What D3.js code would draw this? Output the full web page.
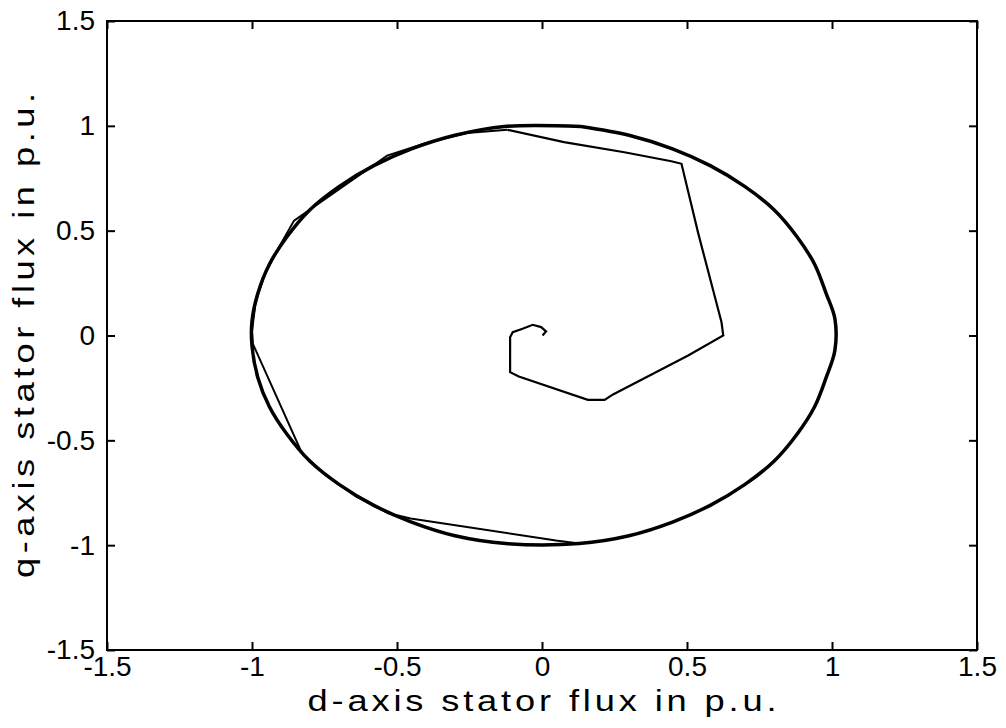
<!DOCTYPE html>
<html>
<head>
<meta charset="utf-8">
<script src="https://cdn.jsdelivr.net/npm/d3@7"></script>
<style>
  body { margin: 0; background: #fff; }
  text { font-family: "Liberation Sans", Arial, sans-serif; fill: #000; }
</style>
</head>
<body>
<div id="chart"></div>
<script>
// tick values
const xTicks = [-1.5, -1, -0.5, 0, 0.5, 1, 1.5];
const yTicks = [-1.5, -1, -0.5, 0, 0.5, 1, 1.5];

// start-up spiral from the origin out to the flux circle [d, q]
const startup = [
  [0.002, 0.0], [0.014, 0.020], [-0.003, 0.040], [-0.032, 0.051], [-0.067, 0.032],
  [-0.101, 0.016], [-0.110, -0.008], [-0.110, -0.175], [-0.080, -0.196],
  [0.158, -0.307], [0.216, -0.307], [0.245, -0.281], [0.504, -0.095],
  [0.625, 0.0], [0.619, 0.063], [0.539, 0.486], [0.481, 0.819], [0.446, 0.831],
  [0.284, 0.874], [0.076, 0.922], [-0.119, 0.981]
];

// first lap, cutting chords inside the circle
const firstLap = [
  [-0.119, 0.981], [-0.26, 0.966], [-0.41, 0.914], [-0.534, 0.858],
  [-0.855, 0.548], [-0.906, 0.423], [-0.956, 0.292], [-0.988, 0.156],
  [-1.0, 0.02], [-0.997, -0.04], [-0.827, -0.563], [-0.743, -0.669],
  [-0.643, -0.766], [-0.530, -0.848], [-0.453, -0.873], [0.048, -0.978],
  [0.128, -0.992]
];

// steady-state flux circle
const steadyLap = [
  [0.135, 0.997], [-0.13, 0.997], [-0.30, 0.955], [-0.45, 0.89], [-0.58, 0.81],
  [-0.70, 0.71], [-0.80, 0.60], [-0.88, 0.47], [-0.94, 0.34], [-0.98, 0.20],
  [-1.0, 0.07], [-1.0, -0.05], [-0.98, -0.20], [-0.94, -0.34], [-0.88, -0.47],
  [-0.80, -0.60], [-0.70, -0.71], [-0.58, -0.81], [-0.45, -0.89], [-0.30, -0.955],
  [-0.125, -0.992], [0.128, -0.992], [0.30, -0.955], [0.45, -0.89], [0.58, -0.81],
  [0.70, -0.71], [0.80, -0.60], [0.88, -0.47], [0.94, -0.34], [0.98, -0.20],
  [1.01, -0.07], [1.01, 0.08], [0.98, 0.20], [0.94, 0.34], [0.88, 0.47],
  [0.80, 0.60], [0.70, 0.71], [0.58, 0.81], [0.45, 0.89], [0.30, 0.955],
  [0.135, 0.997]
];

const width = 1006;
const height = 728;
const margin = {top: 21, right: 29, bottom: 78, left: 107};

const svg = d3.select('#chart')
    .append('svg')
    .attr('width', width)
    .attr('height', height);

const x = d3.scaleLinear()
    .domain([-1.5, 1.5])
    .range([margin.left, width - margin.right]);
const y = d3.scaleLinear()
    .domain([-1.5, 1.5])
    .range([height - margin.bottom, margin.top]);

const line = d3.line()
    .x((d) => x(d[0]))
    .y((d) => y(d[1]));
const smooth = d3.line()
    .x((d) => x(d[0]))
    .y((d) => y(d[1]))
    .curve(d3.curveCatmullRom.alpha(0.5));

const tickLen = 8;
const fmt = (d) => String(d);

// axes, ticks pointing inward on all four sides
const axisStyle = (g) => {
  g.select('.domain').remove();
  g.selectAll('.tick line').attr('stroke', '#000').attr('stroke-width', 2);
  g.selectAll('.tick text').style('font-size', '28px');
};

svg.append('g')
    .attr('transform', `translate(0,${y(-1.5)})`)
    .call(d3.axisBottom(x).tickValues(xTicks).tickFormat(fmt)
        .tickSizeInner(-tickLen).tickPadding(tickLen - 2))
    .call(axisStyle);

svg.append('g')
    .attr('transform', `translate(0,${y(1.5)})`)
    .call(d3.axisTop(x).tickValues(xTicks).tickFormat('')
        .tickSizeInner(-tickLen))
    .call(axisStyle);

svg.append('g')
    .attr('transform', `translate(${x(-1.5)},0)`)
    .call(d3.axisLeft(y).tickValues(yTicks).tickFormat(fmt)
        .tickSizeInner(-tickLen).tickPadding(tickLen + 4))
    .call(axisStyle);

svg.append('g')
    .attr('transform', `translate(${x(1.5)},0)`)
    .call(d3.axisRight(y).tickValues(yTicks).tickFormat('')
        .tickSizeInner(-tickLen))
    .call(axisStyle);

// box
svg.append('rect')
    .attr('x', x(-1.5))
    .attr('y', y(1.5))
    .attr('width', x(1.5) - x(-1.5))
    .attr('height', y(-1.5) - y(1.5))
    .attr('fill', 'none')
    .attr('stroke', '#000')
    .attr('stroke-width', 2);

// trajectory
svg.append('path')
    .datum(steadyLap)
    .attr('d', smooth)
    .attr('fill', 'none')
    .attr('stroke', '#000')
    .attr('stroke-width', 3.5)
    .attr('stroke-linejoin', 'round');

svg.append('path')
    .datum(firstLap)
    .attr('d', line)
    .attr('fill', 'none')
    .attr('stroke', '#000')
    .attr('stroke-width', 2);

svg.append('path')
    .datum(startup)
    .attr('d', line)
    .attr('fill', 'none')
    .attr('stroke', '#000')
    .attr('stroke-width', 2.2);

// axis labels (the source font is wider than Arial)
const stretch = 1.25;
const cx = (x(-1.5) + x(1.5)) / 2;
const cy = (y(-1.5) + y(1.5)) / 2;

svg.append('text')
    .attr('transform', `translate(${cx},711) scale(${stretch},1)`)
    .attr('text-anchor', 'middle')
    .attr('textLength', 469 / stretch)
    .attr('lengthAdjust', 'spacing')
    .style('font-size', '29px')
    .text('d-axis stator flux in p.u.');

svg.append('text')
    .attr('transform', `translate(34,${cy}) rotate(-90) scale(${stretch},1)`)
    .attr('text-anchor', 'middle')
    .attr('textLength', 485 / stretch)
    .attr('lengthAdjust', 'spacing')
    .style('font-size', '29px')
    .text('q-axis stator flux in p.u.');
</script>
</body>
</html>
